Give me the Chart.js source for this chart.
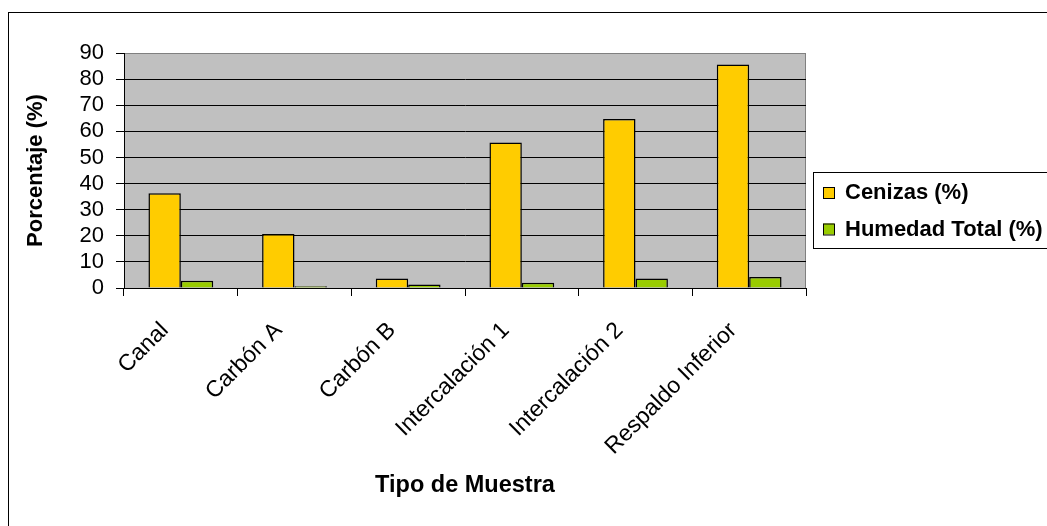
<!DOCTYPE html>
<html>
<head>
<meta charset="utf-8">
<script src="https://cdn.jsdelivr.net/npm/chart.js@4.4.0/dist/chart.umd.min.js"></script>
<style>
  body { margin: 0; background: #fff; }
  #wrap { width: 1047px; height: 526px; position: relative; }
</style>
</head>
<body>
<div id="wrap"><canvas id="myChart"></canvas></div>
<script>
const muestras = ['Canal', 'Carbón A', 'Carbón B', 'Intercalación 1', 'Intercalación 2', 'Respaldo Inferior'];
const cenizas = [36.3, 20.7, 3.6, 55.7, 64.7, 85.6];
const humedad = [2.8, 0.7, 1.3, 2.0, 3.6, 4.2];
const yTicks = [0, 10, 20, 30, 40, 50, 60, 70, 80, 90];

const fuente = "'Liberation Sans', Arial, sans-serif";

// plot area fill, its grey border and the outer frame
const fondo = {
  id: 'fondo',
  beforeDraw(chart) {
    const {ctx, chartArea: a} = chart;
    ctx.save();
    ctx.fillStyle = '#fff';
    ctx.fillRect(0, 0, chart.width, chart.height);
    ctx.strokeStyle = '#000';
    ctx.lineWidth = 1;
    ctx.strokeRect(8.5, 12.5, chart.width + 20, chart.height + 20);
    ctx.fillStyle = '#c0c0c0';
    ctx.fillRect(a.left, a.top, a.right - a.left, a.bottom - a.top);
    ctx.strokeStyle = '#808080';
    ctx.beginPath();
    ctx.moveTo(a.left, a.top + 0.5);
    ctx.lineTo(a.right - 0.5, a.top + 0.5);
    ctx.lineTo(a.right - 0.5, a.bottom);
    ctx.stroke();
    ctx.restore();
  }
};

// boxed legend on the right
const leyenda = {
  id: 'leyenda',
  afterDraw(chart) {
    const ctx = chart.ctx;
    ctx.save();
    ctx.strokeStyle = '#000';
    ctx.lineWidth = 1;
    ctx.strokeRect(813.5, 172.5, 260, 76);
    ctx.font = 'bold 22px ' + fuente;
    ctx.textBaseline = 'middle';
    chart.data.datasets.forEach((ds, i) => {
      const y = 193 + i * 36.5;
      ctx.fillStyle = ds.backgroundColor;
      ctx.fillRect(823, y - 6, 11, 11);
      ctx.strokeRect(823.5, y - 5.5, 11, 11);
      ctx.fillStyle = '#000';
      ctx.fillText(ds.label, 845, y);
    });
    ctx.restore();
  }
};

const ctx = document.getElementById('myChart');
new Chart(ctx, {
  type: 'bar',
  data: {
    labels: muestras,
    datasets: [{
      label: 'Cenizas (%)',
      data: cenizas,
      backgroundColor: '#ffcc00',
      borderColor: '#000',
      borderWidth: 1.5,
      categoryPercentage: 0.57,
      barPercentage: 1
    }, {
      label: 'Humedad Total (%)',
      data: humedad,
      backgroundColor: '#99cc00',
      borderColor: '#000',
      borderWidth: 1.5,
      categoryPercentage: 0.57,
      barPercentage: 1
    }]
  },
  options: {
    responsive: true,
    maintainAspectRatio: false,
    animation: false,
    layout: { padding: { left: 0, top: 53, right: 241, bottom: 0 } },
    plugins: {
      legend: { display: false },
      tooltip: { enabled: false }
    },
    scales: {
      x: {
        grid: { drawOnChartArea: false, color: '#000', tickColor: '#000', tickLength: 8, offset: true },
        border: { color: '#000', width: 1 },
        ticks: {
          color: '#000',
          font: { family: fuente, size: 23 },
          minRotation: 45,
          maxRotation: 45,
          padding: 21,
          labelOffset: -16,
          autoSkip: false
        },
        title: {
          display: true,
          text: 'Tipo de Muestra',
          color: '#000',
          font: { family: fuente, size: 23.5, weight: 'bold' },
          padding: { top: 0, bottom: 26 }
        },
        afterFit(s) { s.height = 238; }
      },
      y: {
        min: 0,
        max: 90,
        afterBuildTicks(s) { s.ticks = yTicks.map(v => ({ value: v })); },
        grid: {
          color: c => (c.tick && c.tick.value === 90 ? '#808080' : '#000'),
          tickColor: '#000',
          tickLength: 8
        },
        border: { color: '#000' },
        ticks: { color: '#000', font: { family: fuente, size: 22 }, padding: 12, autoSkip: false },
        title: {
          display: true,
          text: 'Porcentaje (%)',
          color: '#000',
          font: { family: fuente, size: 22, weight: 'bold' },
          padding: { top: 23, bottom: 0 }
        },
        afterFit(s) { s.width = 124; }
      }
    }
  },
  plugins: [fondo, leyenda]
});
</script>
</body>
</html>
